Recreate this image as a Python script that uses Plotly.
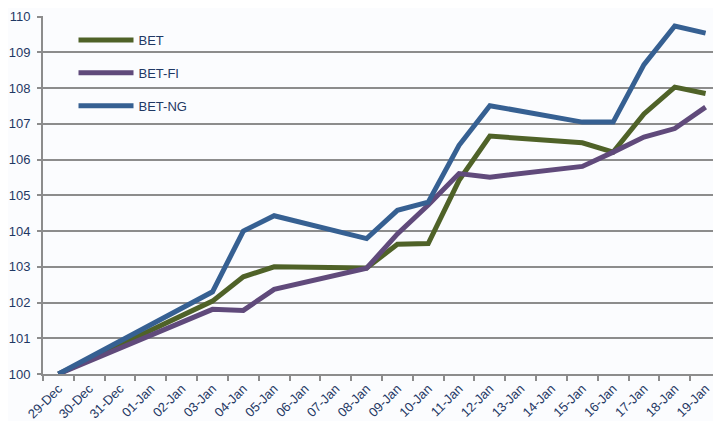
import plotly.graph_objects as go

dates = ["29-Dec", "30-Dec", "31-Dec", "01-Jan", "02-Jan", "03-Jan", "04-Jan", "05-Jan",
         "06-Jan", "07-Jan", "08-Jan", "09-Jan", "10-Jan", "11-Jan", "12-Jan", "13-Jan",
         "14-Jan", "15-Jan", "16-Jan", "17-Jan", "18-Jan", "19-Jan"]

bet = [100.0, None, None, None, None, 102.04, 102.72, 103.0, None, None, 102.97,
       103.63, 103.65, 105.42, 106.66, None, None, 106.47, 106.21, 107.28, 108.03, 107.85]
bet_fi = [100.0, None, None, None, None, 101.81, 101.78, 102.37, None, None, 102.96,
          103.92, 104.73, 105.61, 105.51, None, None, 105.81, 106.21, 106.63, 106.87, 107.47]
bet_ng = [100.0, None, None, None, None, 102.30, 104.0, 104.43, None, None, 103.79,
          104.58, 104.81, 106.40, 107.51, None, None, 107.05, 107.05, 108.66, 109.74, 109.54]

series = [("BET", bet, "#4f6228"), ("BET-FI", bet_fi, "#604a7b"), ("BET-NG", bet_ng, "#366092")]

fig = go.Figure()
for i, (name, vals, col) in enumerate(series):
    fig.add_trace(go.Scatter(x=dates, y=vals, name=name, mode="lines", connectgaps=True,
                             line=dict(color=col, width=5), legendgroup=name))

txt = "#1f3864"
fig.update_layout(
    width=713, height=413,
    margin=dict(l=35, r=0, t=8, b=47),
    paper_bgcolor="#fbfcfe", plot_bgcolor="#fbfcfe",
    font=dict(family="Liberation Sans, Arial, sans-serif", color=txt),
    showlegend=True,
    legend=dict(x=0.045, y=0.975, xanchor="left", yanchor="top", bgcolor="rgba(0,0,0,0)",
                font=dict(size=13, color=txt), traceorder="grouped", tracegroupgap=13,
                itemwidth=55),
    xaxis=dict(type="category", tickson="boundaries", tickangle=-45, ticks="outside",
               ticklen=5, tickwidth=2, tickcolor="#8c8c8c", showgrid=False,
               showline=True, linecolor="#8c8c8c", linewidth=2,
               tickfont=dict(size=13, color=txt), range=[-0.5, 21.5], fixedrange=True),
    yaxis=dict(range=[100, 110.02], tickvals=list(range(100, 111)), ticks="outside",
               ticklen=4, tickwidth=2,
               tickcolor="#8c8c8c", showgrid=True, gridcolor="#8c8c8c", gridwidth=2,
               showline=True, linecolor="#8c8c8c", linewidth=2, zeroline=False,
               ticklabelstandoff=4, tickfont=dict(size=13, color=txt)),
)

fig.write_html("out.html")
